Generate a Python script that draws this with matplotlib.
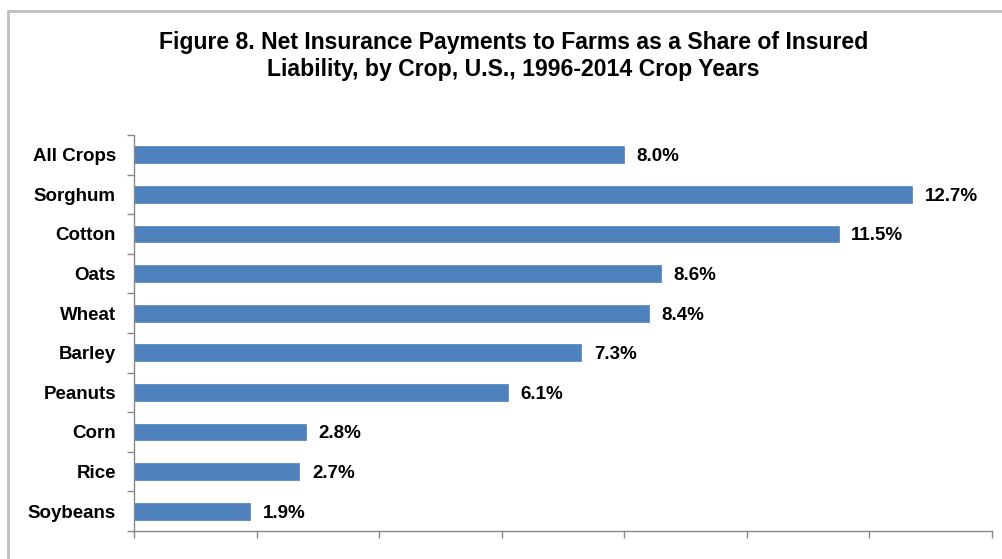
import matplotlib
matplotlib.use("Agg")
import matplotlib.pyplot as plt
from matplotlib.patches import Rectangle
from matplotlib.ticker import MultipleLocator, FixedLocator, NullFormatter
from matplotlib import font_manager

crops = ["All Crops", "Sorghum", "Cotton", "Oats", "Wheat", "Barley",
         "Peanuts", "Corn", "Rice", "Soybeans"]
values = [8.0, 12.7, 11.5, 8.6, 8.4, 7.3, 6.1, 2.8, 2.7, 1.9]
title = ("Figure 8. Net Insurance Payments to Farms as a Share of Insured\n"
         "Liability, by Crop, U.S., 1996-2014 Crop Years")

names = {f.name for f in font_manager.fontManager.ttflist}
title_font = ["Liberation Sans Narrow"] if "Liberation Sans Narrow" in names else ["Liberation Sans"]
body_font = ["Liberation Sans", "DejaVu Sans"]

fig = plt.figure(figsize=(10.02, 5.59), dpi=100)
ax = fig.add_axes([134/1002, 1-531/559, (992-134)/1002, (531-135)/559])

n = len(crops)
ypos = list(range(n))
ax.barh(ypos, values, height=0.42, color="#4F81BD", edgecolor="#4F81BD", linewidth=0.5)
ax.set_ylim(n - 0.5, -0.5)
ax.set_xlim(0, 14)

ax.set_yticks(ypos)
ax.set_yticklabels(crops, fontfamily=body_font, fontweight="bold", fontsize=13.5)
ax.yaxis.set_minor_locator(FixedLocator([i - 0.5 for i in range(n + 1)]))
ax.tick_params(axis="y", which="major", length=0, pad=13)
ax.tick_params(axis="y", which="minor", length=5, color="#888888", width=1)
ax.xaxis.set_major_locator(MultipleLocator(2))
ax.xaxis.set_major_formatter(NullFormatter())
ax.tick_params(axis="x", which="major", length=5, color="#888888", width=1)

for s in ["top", "right"]:
    ax.spines[s].set_visible(False)
for s in ["left", "bottom"]:
    ax.spines[s].set_color("#888888")
    ax.spines[s].set_linewidth(1)

for y, v in zip(ypos, values):
    ax.annotate(f"{v:.1f}%", xy=(v, y), xytext=(9, 0), textcoords="offset points",
                ha="left", va="center_baseline", fontfamily=body_font, fontweight="bold",
                fontsize=13.5, color="#000000")

fig.text(0.5125, 1-56/559, title, ha="center", va="center", fontfamily=title_font + body_font,
         fontweight="bold", fontsize=16.6, linespacing=1.2)

fig.patches.append(Rectangle((7.5/1002, -0.1), 1.2, 1-10.5/559 + 0.1, transform=fig.transFigure,
                             fill=False, edgecolor="#BFBFBF", linewidth=2, zorder=0))

fig.savefig("out.png", dpi=100, facecolor="white")
